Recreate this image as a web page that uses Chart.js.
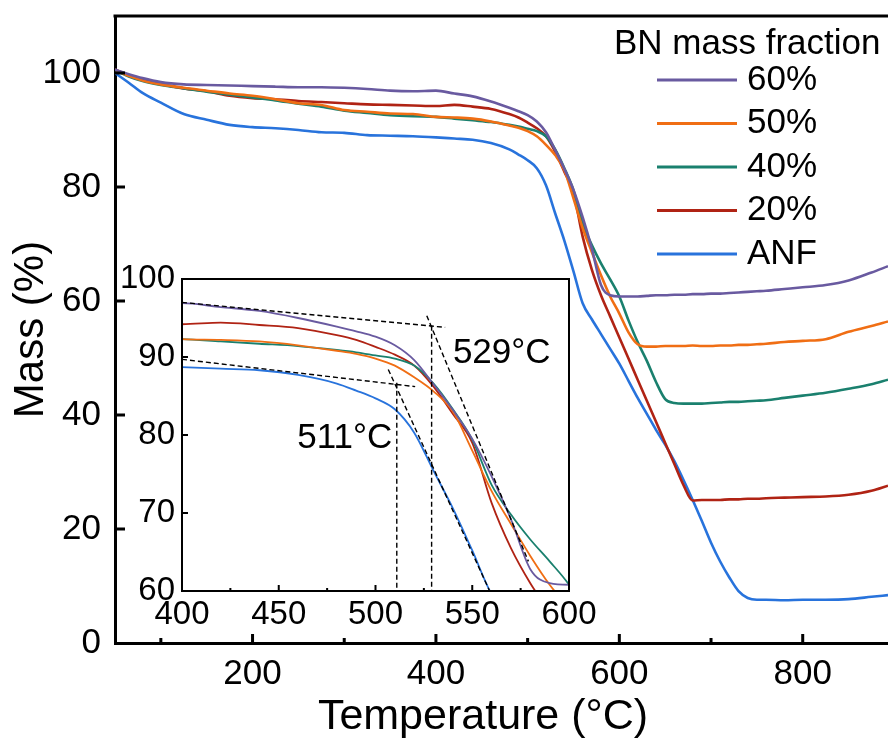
<!DOCTYPE html>
<html><head><meta charset="utf-8">
<script src="https://cdn.jsdelivr.net/npm/chart.js@4.4.1/dist/chart.umd.min.js"></script>
<style>
html,body{margin:0;padding:0;background:#fff;}
#wrap{position:relative;width:888px;height:739px;overflow:hidden;background:#fff;}
#main{position:absolute;left:0;top:0;}
#inset{position:absolute;left:120px;top:262px;}
</style></head><body>
<div id="wrap"><canvas id="main" width="888" height="739"></canvas><canvas id="inset" width="485" height="378"></canvas></div>
<script>
// ---------- data ----------
const temperatures = [50,65,80,100,125,150,175,200,225,250,275,300,325,350,375,400,
  420,440,460,480,490,500,510,520,530,540,550,560,570,580,590,600,
  610,620,630,640,650,660,670,680,690,700,710,720,730,740,750,760,
  780,800,825,850,875,893];
const mass60 = [100.6,99.8,99.1,98.4,98.0,97.9,97.8,97.7,97.6,97.5,97.5,97.4,97.2,96.9,96.8,96.9,
  96.4,95.9,95.0,93.9,93.3,92.6,91.5,89.6,86.5,83.2,79.5,74.7,69.2,62.8,61.0,60.8,
  60.8,60.8,60.9,61.0,61.0,61.1,61.1,61.2,61.2,61.3,61.3,61.4,61.5,61.6,61.7,61.8,
  62.1,62.4,62.8,63.6,65.0,66.1];
const mass50 = [100.6,99.5,98.7,98.0,97.4,96.9,96.4,96.0,95.4,94.7,94.4,93.5,93.2,92.9,92.8,92.3,
  92.2,92.0,91.5,90.8,90.4,89.8,88.9,87.4,85.6,83.0,78.0,72.8,68.6,64.5,60.8,57.8,
  54.5,52.4,52.0,52.0,52.1,52.1,52.1,52.2,52.1,52.1,52.2,52.2,52.3,52.3,52.4,52.5,
  52.8,53.0,53.3,54.6,55.6,56.4];
const mass40 = [100.5,99.4,98.6,97.9,97.3,96.7,96.2,95.7,95.2,94.6,94.1,93.4,93.0,92.6,92.4,92.3,
  92.0,91.7,91.4,90.9,90.6,90.2,89.8,88.9,86.6,83.3,79.4,73.6,69.8,66.6,63.8,60.8,
  56.6,52.8,49.5,45.8,42.8,42.1,42.0,42.0,42.0,42.1,42.2,42.3,42.3,42.4,42.5,42.6,
  43.0,43.4,43.9,44.6,45.4,46.2];
const mass20 = [100.6,99.6,98.8,98.1,97.3,96.8,96.0,95.6,95.4,95.1,94.9,94.7,94.5,94.4,94.3,94.2,
  94.4,94.1,93.7,92.8,92.2,91.3,90.3,88.9,86.2,82.7,79.0,71.3,65.5,61.0,57.3,53.6,
  49.9,46.2,42.5,38.8,35.1,31.4,27.7,25.0,25.1,25.1,25.1,25.2,25.2,25.3,25.3,25.4,
  25.5,25.6,25.7,26.0,26.7,27.6];
const massANF = [100.0,98.3,96.5,94.8,92.8,91.8,90.9,90.5,90.3,90.0,89.6,89.5,89.1,89.0,88.9,88.7,
  88.5,88.3,87.7,86.6,85.7,84.7,83.3,80.3,75.4,70.6,65.2,59.6,56.8,54.2,51.6,49.0,
  46.0,43.0,40.2,37.4,34.8,31.9,28.6,25.1,21.4,17.6,14.3,11.5,9.1,7.9,7.6,7.6,
  7.5,7.6,7.6,7.7,8.1,8.4];
const seriesNames = ['60%','50%','40%','20%','ANF'];
const legendTitle = 'BN mass fraction';
const xAxisTitle = 'Temperature (°C)';
const yAxisTitle = 'Mass (%)';
const mainXTicks = [200,400,600,800];
const mainXMinorTicks = [100,300,500,700];
const mainYTicks = [0,20,40,60,80,100];
const insetXTicks = [400,450,500,550,600];
const insetXMinorTicks = [425,475,525,575];
const insetYTicks = [60,70,80,90,100];
// onset construction lines (temperature, mass) in the inset
const tangentSegments = [
  [[400,97.0],[536,93.8]],
  [[526.5,95.3],[579,63.8]],
  [[529,94.0],[529,60]],
  [[400,89.7],[520.5,86.2]],
  [[506.6,88.4],[559,60]],
  [[511,86.7],[511,60]]
];
const onsetLabels = ['529°C','511°C'];

// ---------- styles ----------
const FAM = "'Liberation Sans', Arial, Helvetica, sans-serif";
const colors = ['#695AA0','#F06E14','#1A806E','#B02314','#2873DC'];
const seriesValues = [mass60, mass50, mass40, mass20, massANF];

function toPts(vals){ return temperatures.map((t,i)=>({x:t,y:vals[i]})); }

const axisDecor = {
  id:'axisDecor',
  beforeDraw(chart, args, o){
    if(!o.whiteArea) return;
    const {ctx, chartArea:a} = chart;
    ctx.save(); ctx.fillStyle='#fff'; ctx.fillRect(a.left,a.top,a.width,a.height); ctx.restore();
  },
  afterDatasetsDraw(chart, args, o){
    const {ctx, chartArea:a, scales:{x,y}} = chart;
    ctx.save();
    ctx.strokeStyle='#000';
    ctx.lineWidth=o.tickWidth;
    ctx.beginPath();
    o.xMajor.forEach(v=>{const p=x.getPixelForValue(v); if(p<a.left+1||p>a.right-1) return; ctx.moveTo(p,a.bottom); ctx.lineTo(p,a.bottom-o.majorLen);});
    o.xMinor.forEach(v=>{const p=x.getPixelForValue(v); ctx.moveTo(p,a.bottom); ctx.lineTo(p,a.bottom-o.minorLen);});
    o.yMajor.forEach(v=>{const p=y.getPixelForValue(v); if(p<a.top+1||p>a.bottom-1) return; ctx.moveTo(a.left,p); ctx.lineTo(a.left+o.yLen,p);});
    ctx.stroke();
    ctx.lineWidth=o.frameWidth;
    if(o.frame){ ctx.strokeRect(a.left,a.top,a.width,a.height); }
    if(o.topLine){ ctx.beginPath(); ctx.moveTo(a.left-o.frameWidth/2,a.top); ctx.lineTo(a.right,a.top); ctx.stroke(); }
    ctx.restore();
  }
};

const customLegend = {
  id:'customLegend',
  afterDraw(chart, args, o){
    if(!o.display) return;
    const ctx = chart.ctx;
    ctx.save();
    ctx.fillStyle='#000';
    ctx.textBaseline='middle';
    ctx.textAlign='left';
    ctx.font = o.size+'px '+FAM;
    ctx.fillText(legendTitle, o.titleX, o.titleY);
    chart.data.datasets.forEach((ds,i)=>{
      const yy = o.rowY + i*o.rowGap;
      ctx.strokeStyle = ds.borderColor; ctx.lineWidth = 3;
      ctx.beginPath(); ctx.moveTo(o.lineX0,yy); ctx.lineTo(o.lineX1,yy); ctx.stroke();
      ctx.fillText(ds.label, o.textX, yy);
    });
    // x axis title
    ctx.textAlign='center';
    ctx.font = o.xTitleSize+'px '+FAM;
    ctx.fillText(xAxisTitle, o.xTitleX, o.xTitleY);
    ctx.restore();
  }
};

const onsetText = {
  id:'onsetText',
  afterDatasetsDraw(chart, args, o){
    if(!o.items) return;
    const {ctx, scales:{x,y}} = chart;
    ctx.save(); ctx.fillStyle='#000'; ctx.font=o.size+'px '+FAM; ctx.textBaseline='middle';
    o.items.forEach(it=>{ ctx.textAlign=it.align; ctx.fillText(it.text, x.getPixelForValue(it.t), y.getPixelForValue(it.m)); });
    ctx.restore();
  }
};

function zeroPad(s){ s.paddingTop=0; s.paddingBottom=0; s.paddingLeft=0; s.paddingRight=0; }

// ---------- main chart ----------
new Chart(document.getElementById('main'), {
  type:'line',
  data:{ datasets: seriesNames.map((n,i)=>({
    label:n, data:toPts(seriesValues[i]), borderColor:colors[i], backgroundColor:colors[i],
    borderWidth:2.6, pointRadius:0, tension:0.25, cubicInterpolationMode:'monotone', fill:false }))},
  options:{
    responsive:false, animation:false, devicePixelRatio:1, events:[],
    layout:{padding:{top:16,right:0,left:0,bottom:0}},
    plugins:{
      legend:{display:false}, tooltip:{enabled:false},
      axisDecor:{tickWidth:3, majorLen:9, minorLen:5, yLen:10, frameWidth:3, topLine:true,
        xMajor:mainXTicks, xMinor:mainXMinorTicks, yMajor:mainYTicks},
      customLegend:{display:true, size:35, titleX:614, titleY:44, rowY:80, rowGap:43.5, lineX0:657, lineX1:737, textX:747,
        xTitleSize:43, xTitleX:483, xTitleY:717}
    },
    scales:{
      x:{ type:'linear', min:50, max:893,
        afterBuildTicks:s=>{ s.ticks = mainXTicks.map(v=>({value:v})); },
        afterFit:s=>{ s.height=96; zeroPad(s); },
        grid:{display:false, drawTicks:false},
        border:{display:true, width:3, color:'#000'},
        ticks:{font:{family:FAM,size:35}, color:'#000', padding:10, maxRotation:0, autoSkip:false},
        title:{display:false}
      },
      y:{ type:'linear', min:0, max:110,
        afterBuildTicks:s=>{ s.ticks = mainYTicks.map(v=>({value:v})); },
        afterFit:s=>{ s.width=115; zeroPad(s); },
        grid:{display:false, drawTicks:false},
        border:{display:true, width:3, color:'#000'},
        ticks:{font:{family:FAM,size:35}, color:'#000', padding:14, autoSkip:false},
        title:{display:true, text:yAxisTitle, color:'#000', font:{family:FAM,size:42,lineHeight:1}, padding:{top:10,bottom:0}}
      }
    }
  },
  plugins:[axisDecor, customLegend]
});

// ---------- inset chart ----------
const dashedSets = tangentSegments.map(seg=>({
  label:'', data:seg.map(p=>({x:p[0],y:p[1]})), borderColor:'#000', borderWidth:1.4,
  borderDash:[5,3], pointRadius:0, tension:0, fill:false }));
const insetSeries = seriesNames.map((n,i)=>({
  label:n, data:toPts(seriesValues[i]), borderColor:colors[i], borderWidth:1.8,
  pointRadius:0, tension:0.3, cubicInterpolationMode:'monotone', fill:false }));

new Chart(document.getElementById('inset'), {
  type:'line',
  data:{ datasets: dashedSets.concat(insetSeries) },
  options:{
    responsive:false, animation:false, devicePixelRatio:1, events:[],
    layout:{padding:{top:17,right:36,left:0,bottom:0}},
    plugins:{
      legend:{display:false}, tooltip:{enabled:false},
      axisDecor:{whiteArea:true, tickWidth:2, majorLen:6, minorLen:3, yLen:6, frameWidth:2, frame:true,
        xMajor:insetXTicks, xMinor:insetXMinorTicks, yMajor:insetYTicks},
      onsetText:{size:35, items:[
        {text:onsetLabels[0], t:540, m:90.5, align:'left'},
        {text:onsetLabels[1], t:508.7, m:79.6, align:'right'}
      ]}
    },
    scales:{
      x:{ type:'linear', min:400, max:600,
        afterBuildTicks:s=>{ s.ticks = insetXTicks.map(v=>({value:v})); },
        afterFit:s=>{ s.height=49; zeroPad(s); },
        grid:{display:false, drawTicks:false},
        border:{display:false},
        ticks:{font:{family:FAM,size:33}, color:'#000', padding:4, maxRotation:0, autoSkip:false}
      },
      y:{ type:'linear', min:60, max:100,
        afterBuildTicks:s=>{ s.ticks = insetYTicks.map(v=>({value:v})); },
        afterFit:s=>{ s.width=62; zeroPad(s); },
        grid:{display:false, drawTicks:false},
        border:{display:false},
        ticks:{font:{family:FAM,size:33}, color:'#000', padding:7, autoSkip:false}
      }
    }
  },
  plugins:[axisDecor, onsetText]
});
</script>
</body></html>
